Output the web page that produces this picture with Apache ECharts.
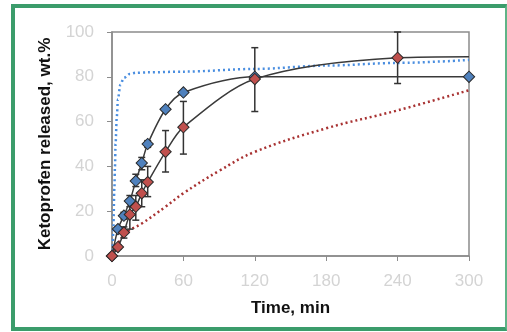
<!DOCTYPE html>
<html><head><meta charset="utf-8">
<script src="https://cdn.jsdelivr.net/npm/echarts@6/dist/echarts.min.js"></script>
<style>
html,body{margin:0;padding:0;background:#fff;}
#c{position:absolute;left:0;top:0;width:507px;height:332px;}
#frame{position:absolute;left:11px;top:4px;width:490px;height:319px;border-left:4px solid #3b9c6b;border-top:4px solid #3b9c6b;border-bottom:4px solid #3b9c6b;border-right:2px solid #5fb487;pointer-events:none;}
</style></head>
<body>
<div id="c"></div>
<div id="frame"></div>
<script>
// Data
const xTicks = [0, 60, 120, 180, 240, 300];
const yTicks = [0, 20, 40, 60, 80, 100];
const blueTime = [0, 5, 10, 15, 20, 25, 30, 45, 60, 120, 300];
const blueValue = [0, 12, 18, 24.5, 33.5, 41.5, 50, 65.5, 73, 80, 80];
const blueErrLow = [null, 11, 16.5, 22, 31, 38.5, 48.5, null, null, null, null];
const blueErrHigh = [null, 13, 19.5, 27, 36.5, 44, 51.5, null, null, null, null];
const redTime = [0, 5, 10, 15, 20, 25, 30, 45, 60, 120, 240, 300];
const redValue = [0, 4, 10.5, 18.5, 22, 28, 33, 46.5, 57.5, 79, 88.5, 89];
const redErrLow = [null, 3, 8, 12, 16, 22, 26.5, 37.5, 45.5, 64.5, 77, null];
const redErrHigh = [null, 5, 13, 24.5, 27, 34, 40, 56, 69, 93, 100, null];
const redMarkerShown = [true, true, true, true, true, true, true, true, true, true, true, false];
const blueModelTime = [0, 0.5, 1, 2, 2.5, 3, 4, 5, 7, 10, 15, 20, 30, 60, 120, 180, 240, 300];
const blueModelValue = [0, 3, 10, 30, 40, 50, 62, 70, 76.5, 79.5, 81.3, 81.8, 82, 82.3, 83.5, 85, 86.2, 87.5];
const redModelTime = [0, 5, 12, 25, 45, 60, 90, 120, 180, 240, 300];
const redModelValue = [0, 5.5, 10.5, 14.5, 22, 28, 38, 46.5, 57, 65, 74];

const zip = (a, b) => a.map((v, i) => [v, b[i]]);
const errData = (t, lo, hi) => t.map((v, i) => [v, lo[i], hi[i]]).filter(d => d[1] != null);

function errRender(params, api) {
  const x = api.value(0);
  const lo = api.coord([x, api.value(1)]);
  const hi = api.coord([x, api.value(2)]);
  const cap = 3.5;
  const st = { stroke: '#333', lineWidth: 1.5 };
  return {
    type: 'group',
    children: [
      { type: 'line', shape: { x1: lo[0], y1: lo[1], x2: hi[0], y2: hi[1] }, style: st },
      { type: 'line', shape: { x1: lo[0] - cap, y1: lo[1], x2: lo[0] + cap, y2: lo[1] }, style: st },
      { type: 'line', shape: { x1: hi[0] - cap, y1: hi[1], x2: hi[0] + cap, y2: hi[1] }, style: st }
    ]
  };
}

const chart = echarts.init(document.getElementById('c'), null, { renderer: 'canvas' });
const fontFam = '"Liberation Sans", Arial, sans-serif';
chart.setOption({
  animation: false,
  grid: { left: 112, right: 38, top: 32, bottom: 76, show: true, borderColor: '#8c8c8c', borderWidth: 1.5 },
  xAxis: {
    type: 'value', min: xTicks[0], max: xTicks[xTicks.length - 1], interval: 60,
    name: 'Time, min', nameLocation: 'middle', nameGap: 44,
    nameTextStyle: { color: '#111', fontWeight: 'bold', fontSize: 17, fontFamily: fontFam },
    axisLine: { show: true, lineStyle: { color: '#8c8c8c', width: 1.5 } },
    axisTick: { show: true, inside: false, length: 5, lineStyle: { color: '#8c8c8c' } },
    axisLabel: { color: '#d4d4d4', fontSize: 17, margin: 17, fontFamily: fontFam },
    splitLine: { show: false }
  },
  yAxis: {
    type: 'value', min: yTicks[0], max: yTicks[yTicks.length - 1], interval: 20,
    name: 'Ketoprofen released, wt.%', nameLocation: 'middle', nameGap: 58,
    nameTextStyle: { color: '#111', fontWeight: 'bold', fontSize: 17, fontFamily: fontFam },
    axisLine: { show: true, lineStyle: { color: '#8c8c8c', width: 1.5 } },
    axisTick: { show: true, inside: false, length: 5, lineStyle: { color: '#8c8c8c' } },
    axisLabel: { color: '#d4d4d4', fontSize: 17, margin: 18, fontFamily: fontFam },
    splitLine: { show: false }
  },
  series: [
    { type: 'line', data: zip(blueModelTime, blueModelValue), smooth: 0.3, smoothMonotone: 'x', showSymbol: false,
      lineStyle: { color: '#4a8ee0', width: 2.5, type: [2, 3] }, z: 1 },
    { type: 'line', data: zip(redModelTime, redModelValue), smooth: 0.4, showSymbol: false,
      lineStyle: { color: '#a83232', width: 2.5, type: [2, 3] }, z: 1 },
    { type: 'custom', data: errData(blueTime, blueErrLow, blueErrHigh), renderItem: errRender, z: 2 },
    { type: 'custom', data: errData(redTime, redErrLow, redErrHigh), renderItem: errRender, z: 2 },
    { type: 'line', data: zip(blueTime, blueValue), smooth: 0.3, symbol: 'rect', symbolSize: 8, symbolRotate: 45,
      lineStyle: { color: '#3a3a3a', width: 1.5 },
      itemStyle: { color: '#4f81bd', borderColor: '#2a2a2a', borderWidth: 1 }, z: 3 },
    { type: 'line', data: redTime.map((t, i) => ({ value: [t, redValue[i]], symbolSize: redMarkerShown[i] ? 8 : 0 })),
      smooth: 0.3, symbol: 'rect', symbolSize: 8, symbolRotate: 45,
      lineStyle: { color: '#3a3a3a', width: 1.5 },
      itemStyle: { color: '#c0504d', borderColor: '#2a2a2a', borderWidth: 1 }, z: 4 }
  ]
});
</script>
</body></html>
